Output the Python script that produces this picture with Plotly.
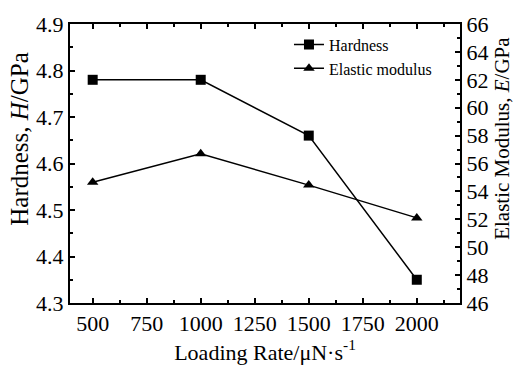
import plotly.graph_objects as go

rates = [500, 1000, 1500, 2000]
hardness = [4.78, 4.78, 4.66, 4.35]
modulus = [54.65, 56.7, 54.45, 52.1]

font = "Liberation Serif, Times New Roman, serif"

fig = go.Figure()
fig.add_trace(go.Scatter(x=rates, y=hardness, name="Hardness", mode="lines+markers",
                         line=dict(color="black", width=1.5),
                         marker=dict(symbol="square", size=10, color="black")))
fig.add_trace(go.Scatter(x=rates, y=modulus, name="Elastic modulus", mode="lines+markers",
                         yaxis="y2", line=dict(color="black", width=1.5),
                         marker=dict(symbol="triangle-up", size=10, color="black")))

axcommon = dict(showgrid=False, zeroline=False, showline=True, linecolor="black", linewidth=2,
                ticks="inside", ticklen=5, tickwidth=1.5, tickcolor="black",
                tickfont=dict(family=font, size=22, color="black"))
minor = dict(ticks="inside", ticklen=3, tickwidth=1.5, tickcolor="black")

fig.update_layout(
    width=520, height=372,
    margin=dict(l=70, r=60, t=24, b=63),
    plot_bgcolor="white", paper_bgcolor="white",
    showlegend=True,
    legend=dict(x=0.5615, y=0.987, xanchor="left", yanchor="top",
                font=dict(family=font, size=16, color="black"),
                bgcolor="rgba(0,0,0,0)", tracegroupgap=0, itemwidth=30),
    xaxis=dict(range=[395, 2200], tickvals=[500, 750, 1000, 1250, 1500, 1750, 2000],
               mirror="ticks",
               minor=dict(dtick=125, tick0=375, **minor),
               title=dict(text="Loading Rate/μN·s<sup>-1</sup>", font=dict(family=font, size=22, color="black"), standoff=8),
               **axcommon),
    yaxis=dict(range=[4.3, 4.9], dtick=0.1, tickformat=".1f",
               minor=dict(dtick=0.05, **minor),
               **axcommon),
    yaxis2=dict(range=[46, 66], dtick=2, overlaying="y", side="right",
                minor=dict(dtick=1, **minor),
                **axcommon),
    annotations=[
        dict(text="Hardness, <i>H</i>/GPa", textangle=-90, xref="paper", yref="paper",
             x=-0.128, y=0.589, xanchor="center", yanchor="middle", showarrow=False,
             font=dict(family=font, size=25, color="black")),
        dict(text="Elastic Modulus, <i>E</i>/GPa", textangle=-90, xref="paper", yref="paper",
             x=1.108, y=0.589, xanchor="center", yanchor="middle", showarrow=False,
             font=dict(family=font, size=21, color="black")),
    ],
)

fig.write_html("out.html")
